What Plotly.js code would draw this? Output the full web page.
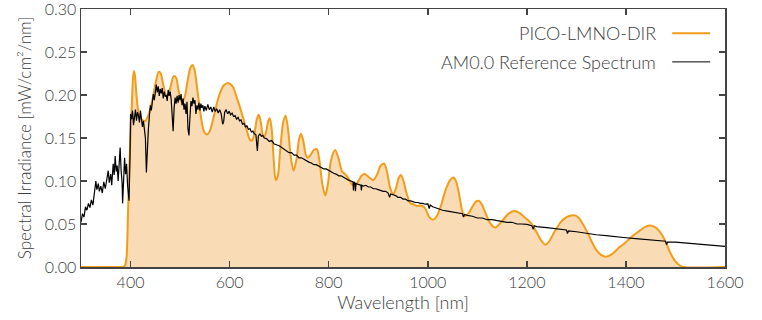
<!DOCTYPE html>
<html>
<head>
<meta charset="utf-8">
<script src="https://cdn.plot.ly/plotly-3.0.1.min.js"></script>
<style>html,body{margin:0;padding:0;background:#fff}#chart{width:762px;height:320px}</style>
</head>
<body>
<div id="chart"></div>
<script>
// PICO-LMNO-DIR (orange, filled)
const picoWl = [300,380,386,389,392,395,399,402,405,407,409,412,416,422,430,438,446,452,457,461,466,472,476,481,487,492,497,503,509,515,521,525,529,535,542,548,554,560,568,578,588,597,606,615,625,634,641,645,650,655,659,663,667,670,674,678,681,685,689,693,697,702,708,713,718,723,729,735,740,744,749,754,758,764,770,776,781,787,793,798,805,813,820,827,833,840,847,853,860,866,873,880,890,898,905,912,918,924,930,936,941,946,951,958,965,971,978,988,995,1003,1011,1018,1026,1035,1045,1052,1058,1064,1070,1075,1082,1090,1097,1103,1109,1117,1125,1132,1137,1145,1155,1165,1175,1185,1195,1210,1220,1230,1237,1244,1255,1268,1280,1290,1297,1305,1315,1325,1333,1340,1350,1360,1372,1385,1398,1411,1425,1440,1452,1462,1472,1482,1490,1499,1508,1516,1600];
const picoVal = [0,0,0,0.002,0.012,0.066,0.140,0.180,0.220,0.228,0.222,0.200,0.180,0.172,0.170,0.180,0.200,0.218,0.227,0.225,0.212,0.200,0.200,0.210,0.222,0.220,0.205,0.192,0.197,0.216,0.232,0.235,0.230,0.205,0.175,0.158,0.154,0.158,0.175,0.198,0.211,0.214,0.210,0.196,0.178,0.160,0.148,0.147,0.155,0.172,0.177,0.168,0.153,0.151,0.158,0.170,0.173,0.160,0.125,0.101,0.105,0.135,0.168,0.176,0.160,0.130,0.112,0.125,0.148,0.155,0.146,0.130,0.127,0.131,0.136,0.137,0.125,0.097,0.083,0.095,0.125,0.136,0.126,0.111,0.108,0.103,0.096,0.095,0.100,0.106,0.108,0.105,0.101,0.108,0.118,0.120,0.110,0.092,0.085,0.092,0.103,0.107,0.100,0.084,0.074,0.073,0.071,0.0715,0.068,0.058,0.055,0.059,0.070,0.088,0.101,0.104,0.098,0.082,0.064,0.059,0.062,0.070,0.076,0.077,0.073,0.062,0.052,0.047,0.046,0.050,0.057,0.063,0.065,0.063,0.058,0.050,0.040,0.030,0.026,0.029,0.040,0.052,0.058,0.060,0.060,0.057,0.048,0.037,0.027,0.020,0.014,0.012,0.015,0.022,0.028,0.035,0.041,0.047,0.048,0.045,0.038,0.027,0.016,0.007,0.002,0,0];

// AM0.0 reference spectrum (black)
const amWl = [300,303,306,309,312,315,318,321,324,327,330,332,335,337,340,343,346,349,352,355,357,360,362,365,367,369,371,373,375,377,379,381,383,384,386,388,390,392,394,396,397,399,400,402,404,406,408,410,412,414,416,418,420,422,424,426,428,430,432,434,436,438,440,442,444,446,448,450,452,454,456,458,460,462,464,466,468,470,472,474,476,478,480,482,484,486,488,490,492,494,496,498,500,502,504,506,508,510,512,514,516,518,520,522,524,526,528,530,532,534,536,538,540,542,544,546,548,550,553,556,559,562,565,568,571,574,577,580,583,586,588,590,593,596,599,602,605,608,611,614,617,620,623,626,629,632,635,638,641,644,647,650,653,656,658,661,664,667,670,675,680,685,690,695,700,705,710,715,720,725,730,735,740,745,750,755,760,765,770,775,780,785,790,795,800,805,810,815,820,825,830,835,840,845,849,850,851,853,854,855,860,865,866,867,870,875,880,885,890,895,900,905,910,915,920,923,925,930,935,940,945,950,955,960,965,970,975,980,985,990,995,1000,1003,1005,1010,1020,1030,1040,1050,1060,1070,1072,1074,1080,1090,1100,1110,1120,1130,1140,1150,1160,1170,1180,1190,1200,1210,1213,1215,1220,1240,1260,1280,1282,1284,1300,1320,1340,1360,1380,1400,1420,1440,1460,1480,1482,1484,1500,1520,1540,1560,1580,1600];
const amVal = [0.052,0.062,0.058,0.070,0.066,0.074,0.069,0.078,0.072,0.085,0.100,0.090,0.097,0.088,0.094,0.086,0.099,0.091,0.104,0.112,0.098,0.108,0.095,0.120,0.107,0.129,0.111,0.118,0.100,0.131,0.139,0.112,0.098,0.074,0.110,0.127,0.108,0.120,0.095,0.082,0.077,0.130,0.178,0.172,0.182,0.165,0.178,0.183,0.170,0.180,0.176,0.168,0.182,0.174,0.163,0.170,0.160,0.150,0.110,0.145,0.160,0.175,0.188,0.182,0.196,0.201,0.194,0.208,0.212,0.203,0.210,0.199,0.207,0.202,0.208,0.196,0.204,0.198,0.200,0.193,0.206,0.199,0.204,0.195,0.180,0.158,0.185,0.197,0.190,0.199,0.191,0.200,0.194,0.201,0.188,0.196,0.183,0.190,0.178,0.192,0.160,0.153,0.175,0.193,0.187,0.197,0.190,0.194,0.178,0.188,0.183,0.191,0.182,0.190,0.185,0.188,0.181,0.187,0.182,0.189,0.183,0.186,0.180,0.186,0.181,0.184,0.179,0.183,0.178,0.166,0.169,0.180,0.183,0.178,0.181,0.177,0.179,0.175,0.176,0.172,0.174,0.170,0.171,0.166,0.167,0.163,0.164,0.160,0.161,0.157,0.158,0.155,0.154,0.135,0.152,0.155,0.152,0.153,0.150,0.149,0.146,0.147,0.143,0.142,0.141,0.139,0.137,0.136,0.133,0.133,0.130,0.130,0.127,0.127,0.125,0.124,0.122,0.121,0.119,0.119,0.117,0.116,0.114,0.114,0.112,0.111,0.109,0.108,0.106,0.106,0.104,0.103,0.101,0.100,0.099,0.089,0.099,0.098,0.088,0.097,0.096,0.095,0.089,0.095,0.094,0.095,0.093,0.093,0.091,0.091,0.090,0.089,0.088,0.088,0.086,0.081,0.085,0.084,0.083,0.081,0.081,0.079,0.079,0.077,0.077,0.076,0.075,0.075,0.074,0.074,0.073,0.0735,0.068,0.072,0.070,0.068,0.066,0.065,0.064,0.063,0.062,0.058,0.061,0.060,0.059,0.057,0.057,0.055,0.055,0.054,0.053,0.052,0.052,0.050,0.050,0.0495,0.048,0.044,0.048,0.047,0.0457,0.044,0.043,0.039,0.042,0.041,0.039,0.0375,0.0365,0.035,0.034,0.033,0.032,0.031,0.030,0.026,0.029,0.029,0.028,0.027,0.026,0.025,0.024];

const xTickVals = [400,600,800,1000,1200,1400,1600];
const yTickVals = [0,0.05,0.10,0.15,0.20,0.25,0.30];
const seriesNames = ['PICO-LMNO-DIR','AM0.0 Reference Spectrum'];

const FONT = 'Lato, "Open Sans", sans-serif';
const TXT = '#3c3c3c';

const traces = [
  {x: picoWl, y: picoVal, type:'scatter', mode:'lines', name: seriesNames[0],
   line:{color:'#f39c1a', width:2, shape:'spline', smoothing:0.8},
   fill:'tozeroy', fillcolor:'#f9dcb5', showlegend:false},
  {x: amWl, y: amVal, type:'scatter', mode:'lines', name: seriesNames[1],
   line:{color:'#000000', width:1.2}, showlegend:false}
];

const axisCommon = {showline:true, linecolor:'#444', linewidth:1.5, mirror:'ticks',
  ticks:'inside', ticklen:6, tickwidth:1.5, tickcolor:'#444', showgrid:false, zeroline:false,
  ticklabeloverflow:'allow',
  tickfont:{family:FONT, size:16, color:TXT, weight:300}};

const layout = {
  width:762, height:320,
  margin:{l:81, r:37, t:9, b:53},
  paper_bgcolor:'#fff', plot_bgcolor:'#fff',
  font:{family:FONT, color:TXT, weight:300},
  xaxis: Object.assign({}, axisCommon, {range:[300,1600], tickvals:xTickVals,
    title:{text:'Wavelength [nm]', font:{family:FONT, size:18, color:TXT, weight:300}, standoff:5}}),
  yaxis: Object.assign({}, axisCommon, {range:[0,0.30], tickvals:yTickVals, tickformat:'.2f',
    title:{text:'Spectral Irradiance [mW/cm²/nm]', font:{family:FONT, size:17, color:TXT, weight:300}, standoff:9}}),
  showlegend:false,
  annotations:[
    {xref:'paper', yref:'paper', x:0.896, y:0.906, xanchor:'right', yanchor:'middle', showarrow:false,
     text:seriesNames[0], font:{family:FONT, size:18, color:TXT, weight:300}},
    {xref:'paper', yref:'paper', x:0.896, y:0.795, xanchor:'right', yanchor:'middle', showarrow:false,
     text:seriesNames[1], font:{family:FONT, size:18, color:TXT, weight:300}}
  ],
  shapes:[
    {type:'line', xref:'paper', yref:'paper', x0:0.918, x1:0.977, y0:0.906, y1:0.906, line:{color:'#f39c1a', width:2}},
    {type:'line', xref:'paper', yref:'paper', x0:0.918, x1:0.977, y0:0.795, y1:0.795, line:{color:'#000', width:1}}
  ]
};

Plotly.newPlot('chart', traces, layout, {staticPlot:true, displayModeBar:false});
</script>
</body>
</html>
